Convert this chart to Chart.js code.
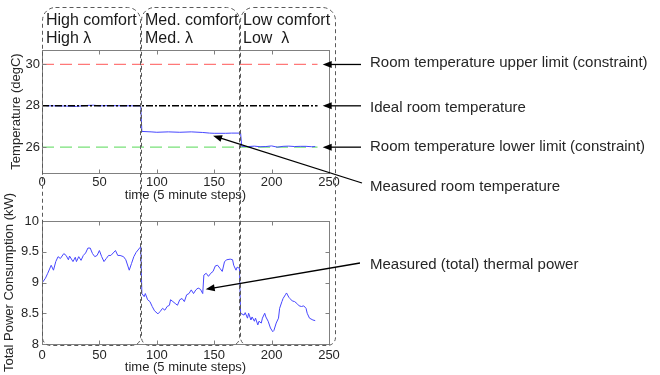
<!DOCTYPE html>
<html><head><meta charset="utf-8">
<script src="https://cdn.jsdelivr.net/npm/chart.js@4/dist/chart.umd.min.js"></script>
<style>
html,body{margin:0;padding:0;background:#fff;width:660px;height:375px;overflow:hidden;font-family:"Liberation Sans",Arial,sans-serif;}
#c1,#c2,#ov{position:absolute;left:0;}
#c1{top:0;} #c2{top:175px;} #ov{top:0;pointer-events:none;}
.t{position:absolute;white-space:pre;color:#222;}
.box{font-size:16px;line-height:18px;color:#1a1a1a;}
.ann{font-size:15px;line-height:18px;color:#262626;}
</style></head><body>
<canvas id="c1" width="660" height="205"></canvas>
<canvas id="c2" width="660" height="200"></canvas>
<canvas id="ov" width="660" height="375"></canvas>
<div class="t box" style="left:46px;top:11px">High comfort
High λ</div>
<div class="t box" style="left:145px;top:11px">Med. comfort
Med. λ</div>
<div class="t box" style="left:243px;top:11px">Low comfort
Low  λ</div>
<div class="t ann" style="left:370px;top:53px">Room temperature upper limit (constraint)</div>
<div class="t ann" style="left:370px;top:98px">Ideal room temperature</div>
<div class="t ann" style="left:370px;top:137px">Room temperature lower limit (constraint)</div>
<div class="t ann" style="left:370px;top:177px">Measured room temperature</div>
<div class="t ann" style="left:370px;top:255px">Measured (total) thermal power</div>
<script>
// ---- data ----
const xTicks = [0, 50, 100, 150, 200, 250];
const tempTicks = [26, 28, 30];
const powerTicks = [8, 8.5, 9, 9.5, 10];

const limitSteps = [0, 240];
const upperLimit = [30, 30];
const idealTemp = [28, 28];
const lowerLimit = [26, 26];

const tempSteps = [0,10,20,30,35,40,45,50,60,70,80,86,87,95,100,110,120,130,140,146,150,160,165,173,174,180,185,190,195,200,205,210,215,220,225,230,235,238];
const tempValues = [28.0,28.0,27.99,27.97,28.0,28.02,28.03,28.0,28.01,28.0,28.0,28.0,26.76,26.74,26.72,26.74,26.72,26.74,26.71,26.68,26.67,26.67,26.68,26.68,26.04,26.03,26.05,26.02,26.03,26.06,26.0,26.04,26.05,26.03,26.04,26.04,26.02,26.03];

const powerSteps = [0,3,5,8,10,12,14,16,19,21,23,24,27,29,30,32,34,36,38,40,42,44,46,48,50,52,54,56,58,60,62,64,66,68,71,73,76,78,80,82,85,86,87,89,90,92,94,96,98,101,103,105,107,109,111,112,114,116,118,120,122,124,126,128,130,132,134,136,138,140,141,143,145,147,149,151,153,155,157,159,161,164,166,167,169,170,172,173,176,177,179,180,182,183,185,186,188,189,191,192,194,195,197,199,201,202,204,206,207,209,210,212,213,215,216,218,220,222,224,226,228,230,231,233,236,238];
const powerValues = [8.99,9.07,9.15,9.28,9.2,9.34,9.42,9.39,9.47,9.44,9.37,9.43,9.34,9.41,9.34,9.42,9.36,9.44,9.48,9.56,9.56,9.47,9.42,9.44,9.52,9.42,9.34,9.39,9.44,9.44,9.48,9.52,9.44,9.44,9.42,9.37,9.2,9.31,9.42,9.49,9.56,9.58,8.82,8.77,8.82,8.72,8.69,8.61,8.54,8.49,8.53,8.58,8.55,8.61,8.63,8.72,8.69,8.66,8.63,8.72,8.74,8.69,8.8,8.82,8.88,8.82,8.88,8.91,8.89,8.82,9.12,9.15,9.1,9.15,9.18,9.27,9.28,9.23,9.18,9.34,9.37,9.38,9.37,9.28,9.2,9.25,9.23,8.5,8.47,8.51,8.42,8.5,8.39,8.44,8.37,8.42,8.31,8.37,8.34,8.42,8.5,8.44,8.37,8.26,8.2,8.22,8.34,8.42,8.58,8.69,8.74,8.8,8.83,8.76,8.74,8.7,8.69,8.66,8.62,8.61,8.62,8.58,8.5,8.42,8.39,8.38];

// phase boundaries (in time steps) for the comfort boxes
const phaseEdges = [0, 85.5, 171.5, 255];

// ---- helpers ----
const zip = (xs, ys) => xs.map((x, i) => ({x: x, y: ys[i]}));
const FONT = '"Liberation Sans", Arial, sans-serif';
const AXIS = '#808080';
const TXT = '#262626';

const frame = {
  id: 'frame',
  afterDraw(chart) {
    const {ctx, chartArea: a, scales: {x, y}} = chart;
    ctx.save();
    ctx.strokeStyle = AXIS; ctx.lineWidth = 1;
    const L = Math.round(a.left) + 0.5, R = Math.round(a.right) + 0.5;
    const T = Math.round(a.top) + 0.5, B = Math.round(a.bottom) + 0.5;
    ctx.strokeRect(L, T, R - L, B - T);
    ctx.beginPath();
    x.ticks.forEach(t => {
      const p = Math.round(x.getPixelForValue(t.value)) + 0.5;
      ctx.moveTo(p, B); ctx.lineTo(p, B - 4);
      ctx.moveTo(p, T); ctx.lineTo(p, T + 4);
    });
    y.ticks.forEach(t => {
      const p = Math.round(y.getPixelForValue(t.value)) + 0.5;
      ctx.moveTo(L, p); ctx.lineTo(L + 4, p);
      ctx.moveTo(R, p); ctx.lineTo(R - 4, p);
    });
    ctx.stroke();
    ctx.restore();
  }
};

function xScaleOpts(h, pad, titlePadBottom) {
  return {
    type: 'linear', min: 0, max: 250,
    afterBuildTicks: s => { s.ticks = xTicks.map(v => ({value: v})); },
    afterFit: s => { s.height = h; },
    grid: {display: false, drawTicks: false},
    border: {display: false},
    ticks: {font: {family: FONT, size: 13}, color: TXT, padding: pad, maxRotation: 0, autoSkip: false, callback: v => String(v)},
    title: {display: true, text: 'time (5 minute steps)', font: {family: FONT, size: 13}, color: TXT, padding: {top: 0, bottom: titlePadBottom}}
  };
}
function yScaleOpts(min, max, ticks, title, titlePad, pad) {
  return {
    min: min, max: max,
    afterBuildTicks: s => { s.ticks = ticks.map(v => ({value: v})); },
    afterFit: s => { s.width = 42; },
    grid: {display: false, drawTicks: false},
    border: {display: false},
    ticks: {font: {family: FONT, size: 13}, color: TXT, padding: pad, callback: v => String(v)},
    title: {display: true, text: title, font: {family: FONT, size: 13}, color: TXT, padding: {top: titlePad, bottom: 0}}
  };
}

const common = {
  responsive: false, animation: false,
  plugins: {legend: {display: false}, tooltip: {enabled: false}},
  elements: {point: {radius: 0}, line: {tension: 0}}
};

const chart1 = new Chart(document.getElementById('c1'), {
  type: 'line',
  data: {datasets: [
    {data: zip(limitSteps, idealTemp), borderColor: '#000', borderWidth: 1.6, borderDash: [7, 2, 2, 2]},
    {data: zip(tempSteps, tempValues), borderColor: 'rgb(70,70,255)', borderWidth: 1},
    {data: zip(limitSteps, upperLimit), borderColor: 'rgb(255,120,120)', borderWidth: 1.2, borderDash: [12, 6]},
    {data: zip(limitSteps, lowerLimit), borderColor: 'rgb(120,225,120)', borderWidth: 1.2, borderDash: [12, 6]}
  ]},
  options: Object.assign({}, common, {
    layout: {padding: {left: 0, right: 331, top: 50, bottom: 0}},
    scales: {
      x: xScaleOpts(32, 2, 2),
      y: yScaleOpts(24.75, 30.7, tempTicks, 'Temperature (degC)', 9, 2)
    }
  }),
  plugins: [frame]
});

const chart2 = new Chart(document.getElementById('c2'), {
  type: 'line',
  data: {datasets: [
    {data: zip(powerSteps, powerValues), borderColor: 'rgb(70,70,255)', borderWidth: 1}
  ]},
  options: Object.assign({}, common, {
    layout: {padding: {left: 0, right: 331, top: 46, bottom: 0}},
    scales: {
      x: xScaleOpts(31, 4, 0),
      y: yScaleOpts(8, 10, powerTicks, 'Total Power Consumption (kW)', 2, 3)
    }
  }),
  plugins: [frame]
});

// ---- overlay: comfort boxes and annotation arrows ----
function drawOverlay() {
  const ov = document.getElementById('ov');
  const ctx = ov.getContext('2d');
  ctx.clearRect(0, 0, 660, 375);
  const x1 = chart1.scales.x, y1 = chart1.scales.y;
  const x2 = chart2.scales.x, y2 = chart2.scales.y;
  const off2 = 175;

  // dashed rounded boxes
  const top = 7, bottom = 345;
  ctx.save();
  ctx.strokeStyle = '#5a5a5a'; ctx.lineWidth = 1; ctx.setLineDash([4, 3]);
  for (let i = 0; i < 3; i++) {
    const l = Math.round(x1.getPixelForValue(phaseEdges[i])) + (i ? 1.5 : 0.5);
    const r = Math.round(x1.getPixelForValue(phaseEdges[i + 1])) + 0.5;
    ctx.beginPath();
    if (ctx.roundRect) ctx.roundRect(l, top + 0.5, r - l, bottom - top, [13, 13, 8, 8]);
    else ctx.rect(l, top + 0.5, r - l, bottom - top);
    ctx.stroke();
  }
  ctx.restore();

  function arrow(xa, ya, xb, yb) {
    const ang = Math.atan2(yb - ya, xb - xa), L = 9, W = 3.5;
    const c = Math.cos(ang), s = Math.sin(ang);
    ctx.beginPath();
    ctx.moveTo(xa, ya); ctx.lineTo(xb - L * 0.8 * c, yb - L * 0.8 * s);
    ctx.stroke();
    ctx.beginPath();
    ctx.moveTo(xb, yb);
    ctx.lineTo(xb - L * c + W * s, yb - L * s - W * c);
    ctx.lineTo(xb - L * c - W * s, yb - L * s + W * c);
    ctx.closePath(); ctx.fill();
  }
  ctx.save();
  ctx.strokeStyle = '#000'; ctx.fillStyle = '#000'; ctx.lineWidth = 1.3;
  const tipX = x1.getPixelForValue(244.5);
  arrow(361, y1.getPixelForValue(30), tipX, y1.getPixelForValue(30));
  arrow(361, y1.getPixelForValue(28), tipX, y1.getPixelForValue(28));
  arrow(361, y1.getPixelForValue(26), tipX, y1.getPixelForValue(26));
  arrow(362, 183, x1.getPixelForValue(149), y1.getPixelForValue(26.55));
  arrow(360, 263, x2.getPixelForValue(142.6), y2.getPixelForValue(8.89) + off2);
  ctx.restore();
}
drawOverlay();
</script>
</body></html>
